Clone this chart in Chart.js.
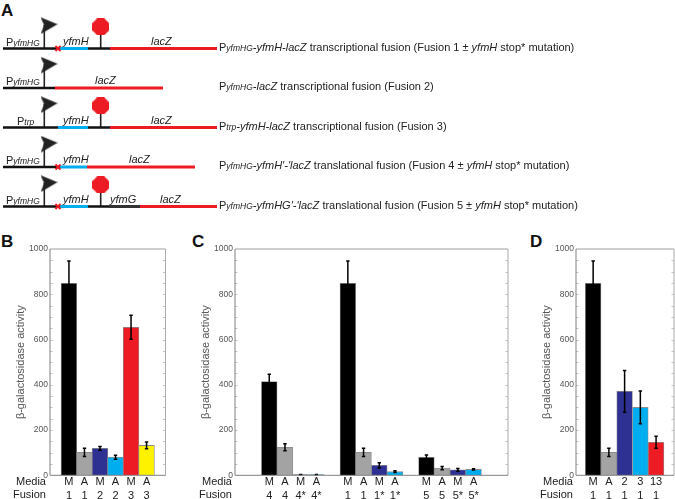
<!DOCTYPE html>
<html>
<head>
<meta charset="utf-8">
<script src="https://cdn.jsdelivr.net/npm/chart.js@4"></script>
<style>
  html, body { margin: 0; padding: 0; background: #fff; }
  body { position: relative; width: 675px; height: 499px; overflow: hidden; font-family: "Liberation Sans", Arial, sans-serif; color: #222; }
  canvas { position: absolute; display: block; }
  .t { position: absolute; white-space: nowrap; line-height: 14px; }
  .panel { font-size: 17px; font-weight: bold; color: #111; line-height: 18px; }
  .cap { left: 219px; font-size: 11px; }
  .cap i.s, .p i { font-size: 8.5px; }
  .p { font-size: 11px; }
  .g { font-size: 11px; font-style: italic; }
  .row { font-size: 11px; text-align: right; width: 40px; }
</style>
</head>
<body>
<span class="t panel" style="left:1px;top:2px">A</span>
<span class="t panel" style="left:1px;top:233px">B</span>
<span class="t panel" style="left:192px;top:233px">C</span>
<span class="t panel" style="left:530px;top:233px">D</span>

<canvas id="panelA" width="675" height="228" style="left:0;top:0"></canvas>
<canvas id="panelB" width="175" height="269" style="left:0;top:230px"></canvas>
<canvas id="panelC" width="330" height="269" style="left:185px;top:230px"></canvas>
<canvas id="panelD" width="149" height="269" style="left:526px;top:230px"></canvas>

<span class="t p" style="left:6px;top:35px">P<i>yfmHG</i></span>
<span class="t p" style="left:6px;top:74px">P<i>yfmHG</i></span>
<span class="t p" style="left:17px;top:114px">P<i>trp</i></span>
<span class="t p" style="left:6px;top:153px">P<i>yfmHG</i></span>
<span class="t p" style="left:6px;top:193px">P<i>yfmHG</i></span>

<span class="t g" style="left:63px;top:34px">yfmH</span>
<span class="t g" style="left:151px;top:34px">lacZ</span>
<span class="t g" style="left:95px;top:73px">lacZ</span>
<span class="t g" style="left:63px;top:113px">yfmH</span>
<span class="t g" style="left:151px;top:113px">lacZ</span>
<span class="t g" style="left:63px;top:152px">yfmH</span>
<span class="t g" style="left:129px;top:152px">lacZ</span>
<span class="t g" style="left:63px;top:192px">yfmH</span>
<span class="t g" style="left:110px;top:192px">yfmG</span>
<span class="t g" style="left:160px;top:192px">lacZ</span>

<span class="t cap" style="top:40px">P<i class="s">yfmHG</i><i>-yfmH-lacZ</i> transcriptional fusion (Fusion 1 ± <i>yfmH</i> stop* mutation)</span>
<span class="t cap" style="top:79px">P<i class="s">yfmHG</i><i>-lacZ</i> transcriptional fusion (Fusion 2)</span>
<span class="t cap" style="top:119px">P<i class="s">trp</i><i>-yfmH-lacZ</i> transcriptional fusion (Fusion 3)</span>
<span class="t cap" style="top:158px">P<i class="s">yfmHG</i><i>-yfmH'-'lacZ</i> translational fusion (Fusion 4 ± <i>yfmH</i> stop* mutation)</span>
<span class="t cap" style="top:198px">P<i class="s">yfmHG</i><i>-yfmHG'-'lacZ</i> translational fusion (Fusion 5 ± <i>yfmH</i> stop* mutation)</span>

<span class="t row" style="left:6px;top:474px">Media</span>
<span class="t row" style="left:6px;top:487px">Fusion</span>
<span class="t row" style="left:192px;top:474px">Media</span>
<span class="t row" style="left:192px;top:487px">Fusion</span>
<span class="t row" style="left:533px;top:474px">Media</span>
<span class="t row" style="left:533px;top:487px">Fusion</span>

<script>
// panel B
const bSlots = [0, 1, 2, 3, 4, 5];
const bMedia = ['M', 'A', 'M', 'A', 'M', 'A'];
const bFusion = ['1', '1', '2', '2', '3', '3'];
const bValues = [848, 101, 119, 80, 654, 132];
const bErrors = [99, 18, 8, 9, 53, 15];

// panel C
const cSlots = [0, 1, 2, 3, 5, 6, 7, 8, 10, 11, 12, 13];
const cMedia = ['M', 'A', 'M', 'A', 'M', 'A', 'M', 'A', 'M', 'A', 'M', 'A'];
const cFusion = ['4', '4', '4*', '4*', '1', '1', '1*', '1*', '5', '5', '5*', '5*'];
const cValues = [414, 124, 3, 3, 848, 101, 44, 16, 80, 32, 24, 26];
const cErrors = [32, 15, 1, 1, 99, 18, 12, 4, 10, 7, 6, 3];

// panel D
const dSlots = [0, 1, 2, 3, 4];
const dMedia = ['M', 'A', '2', '3', '13'];
const dFusion = ['1', '1', '1', '1', '1'];
const dValues = [848, 101, 371, 300, 146];
const dErrors = [99, 18, 92, 72, 27];

const BLACK = '#000000', GRAY = '#a3a3a3', NAVY = '#2e3192', CYAN = '#00aeef', RED = '#ed1c24', YELLOW = '#fff200';
const bColors = [BLACK, GRAY, NAVY, CYAN, RED, YELLOW];
const cColors = [BLACK, GRAY, NAVY, CYAN, BLACK, GRAY, NAVY, CYAN, BLACK, GRAY, NAVY, CYAN];
const dColors = [BLACK, GRAY, NAVY, CYAN, RED];

// panel A: [row, from, to] along the construct
const wireSegments = [[1, 3, 60], [1, 88, 110], [2, 3, 55], [3, 3, 58], [3, 88, 110], [4, 3, 60], [5, 3, 60], [5, 88, 109]];
const yfmHSegments = [[1, 60, 88], [3, 58, 88], [4, 60, 87], [5, 60, 88]];
const yfmGSegments = [[5, 109, 140]];
const lacZSegments = [[1, 110, 217], [2, 55, 163], [3, 110, 217], [4, 87, 195], [5, 140, 217]];
const promoterRows = [1, 2, 3, 4, 5];
const stopRows = [1, 3, 5];
const mutationRows = [1, 4, 5];

const FONT = '"Liberation Sans", Arial, sans-serif';

const errorBars = {
  id: 'errorBars',
  afterDatasetsDraw(chart, args, opts) {
    const { ctx, scales } = chart;
    ctx.save();
    ctx.strokeStyle = '#000';
    ctx.lineWidth = 1.5;
    chart.data.datasets[0].data.forEach((p, i) => {
      const err = opts.errors[i];
      const x = scales.x.getPixelForValue(p.x);
      const hi = scales.y.getPixelForValue(p.y + err);
      const lo = scales.y.getPixelForValue(Math.max(0, p.y - err));
      ctx.beginPath();
      ctx.moveTo(x, hi); ctx.lineTo(x, lo);
      ctx.moveTo(x - 1.7, hi); ctx.lineTo(x + 1.7, hi);
      ctx.moveTo(x - 1.7, lo); ctx.lineTo(x + 1.7, lo);
      ctx.stroke();
    });
    ctx.restore();
  }
};

// frame and the small ticks that point into the plot
const plotFrame = {
  id: 'plotFrame',
  afterDatasetsDraw(chart) {
    const { ctx, chartArea: a, scales } = chart;
    ctx.save();
    ctx.lineWidth = 1;
    ctx.strokeStyle = '#c4c4c4';
    for (let v = 50; v < 1000; v += 50) {
      const y = Math.round(scales.y.getPixelForValue(v)) + 0.5;
      ctx.beginPath();
      ctx.moveTo(a.left, y); ctx.lineTo(a.left + 2.5, y);
      ctx.moveTo(a.right, y); ctx.lineTo(a.right - 2.5, y);
      ctx.stroke();
    }
    ctx.strokeStyle = '#cfcfcf';
    ctx.lineWidth = 2;
    ctx.beginPath(); ctx.moveTo(a.left, a.top); ctx.lineTo(a.right, a.top); ctx.stroke();
    ctx.lineWidth = 1;
    ctx.strokeStyle = '#aaaaaa';
    ctx.beginPath(); ctx.moveTo(a.right, a.top); ctx.lineTo(a.right, a.bottom); ctx.stroke();
    ctx.strokeStyle = '#808080';
    ctx.beginPath(); ctx.moveTo(a.left, a.top); ctx.lineTo(a.left, a.bottom); ctx.lineTo(a.right, a.bottom); ctx.stroke();
    ctx.restore();
  }
};

function barChart(id, slots, values, errors, colors, media, fusion, xMin, xMax, rightPad) {
  return new Chart(document.getElementById(id), {
    type: 'bar',
    data: {
      datasets: [{
        data: slots.map((s, i) => ({ x: s, y: values[i] })),
        backgroundColor: colors,
        borderColor: '#8c8c8c',
        borderWidth: 0.8,
        barThickness: 15.7
      }]
    },
    options: {
      responsive: false,
      animation: false,
      layout: { padding: { top: 19, right: rightPad, left: 0, bottom: 0 } },
      plugins: {
        legend: { display: false },
        tooltip: { enabled: false },
        errorBars: { errors: errors }
      },
      scales: {
        x: {
          type: 'linear',
          offset: false,
          min: xMin,
          max: xMax,
          grid: { display: false, drawTicks: false },
          border: { display: false },
          afterBuildTicks(scale) { scale.ticks = slots.map(s => ({ value: s })); },
          afterFit(scale) { scale.height = 23.7; },
          ticks: {
            autoSkip: false,
            maxRotation: 0,
            padding: 0,
            color: '#222',
            font: { family: FONT, size: 11, lineHeight: 1.23 },
            callback: (v, i) => [media[i], fusion[i]]
          }
        },
        y: {
          min: 0,
          max: 1000,
          grid: { display: false, drawTicks: false },
          border: { display: false },
          afterFit(scale) { scale.width = 50; },
          ticks: {
            stepSize: 200,
            padding: 2,
            color: '#555',
            font: { family: FONT, size: 8.5 },
            callback: v => String(v)
          },
          title: {
            display: true,
            text: 'β-galactosidase activity',
            color: '#555',
            padding: { top: 14, bottom: 0 },
            font: { family: FONT, size: 11, weight: 'normal', lineHeight: 1.2 }
          }
        }
      }
    },
    plugins: [errorBars, plotFrame]
  });
}

barChart('panelB', bSlots, bValues, bErrors, bColors, bMedia, bFusion, -1.22, 6.22, 9.5);
barChart('panelC', cSlots, cValues, cErrors, cColors, cMedia, cFusion, -2.18, 15.19, 7);
barChart('panelD', dSlots, dValues, dErrors, dColors, dMedia, dFusion, -1.09, 5.14, 1);

// marker pictures for panel A
function flagPicture() {
  const c = document.createElement('canvas');
  c.width = 17; c.height = 17;
  const g = c.getContext('2d');
  g.fillStyle = '#222';
  g.beginPath();
  g.moveTo(0, 0); g.lineTo(17, 7); g.lineTo(0, 17); g.lineTo(3.7, 8);
  g.closePath(); g.fill();
  return c;
}

function stopPicture() {
  const c = document.createElement('canvas');
  c.width = 17; c.height = 17;
  const g = c.getContext('2d');
  g.fillStyle = RED;
  g.beginPath();
  [[5, 0], [12, 0], [17, 5], [17, 12], [12, 17], [5, 17], [0, 12], [0, 5]].forEach(p => g.lineTo(p[0], p[1]));
  g.closePath(); g.fill();
  return c;
}

function segmentPoints(segments) {
  const pts = [];
  segments.forEach(s => {
    pts.push({ x: s[1], y: s[0] }, { x: s[2], y: s[0] }, { x: s[2], y: null });
  });
  return pts;
}

function track(segments, color, width, order) {
  return { data: segmentPoints(segments), showLine: true, borderColor: color, borderWidth: width, borderCapStyle: 'butt', pointRadius: 0, spanGaps: false, order: order };
}

const PROMOTER_X = 44.3, STOP_X = 100.7, MUTATION_X = 58;

function stemDataset(rows, x, rise) {
  const pts = [];
  rows.forEach(r => { pts.push({ x: x, y: r }, { x: x, y: r - rise }, { x: x, y: null }); });
  return { data: pts, showLine: true, borderColor: '#222', borderWidth: 1.6, borderCapStyle: 'butt', pointRadius: 0, order: 5 };
}

function markerDataset(rows, x, rise, style, size, order) {
  return {
    data: rows.map(r => ({ x: x, y: r - rise })),
    showLine: false,
    pointStyle: style,
    pointRadius: size,
    pointBorderColor: RED,
    pointBorderWidth: 2,
    pointBackgroundColor: RED,
    order: order
  };
}

// lower order is drawn on top, so the red crosses stay over the black line
new Chart(document.getElementById('panelA'), {
  type: 'scatter',
  data: {
    datasets: [
      stemDataset(promoterRows, PROMOTER_X, 0.6),
      stemDataset(stopRows, STOP_X, 0.5),
      track(wireSegments, '#111', 2.4, 4),
      track(yfmHSegments, CYAN, 3, 3),
      track(yfmGSegments, '#333', 3, 3),
      track(lacZSegments, RED, 3, 3),
      markerDataset(promoterRows, 49, 0.577, flagPicture(), 8.5, 2),
      markerDataset(stopRows, STOP_X, 0.55, stopPicture(), 8.5, 2),
      markerDataset(mutationRows, MUTATION_X, 0, 'crossRot', 3.6, 1)
    ]
  },
  options: {
    responsive: false,
    animation: false,
    layout: { padding: 0, autoPadding: false },
    plugins: { legend: { display: false }, tooltip: { enabled: false } },
    scales: {
      x: { type: 'linear', display: false, min: 0, max: 675 },
      y: { type: 'linear', display: false, reverse: true, min: -0.228, max: 5.544 }
    }
  }
});
</script>
</body>
</html>
